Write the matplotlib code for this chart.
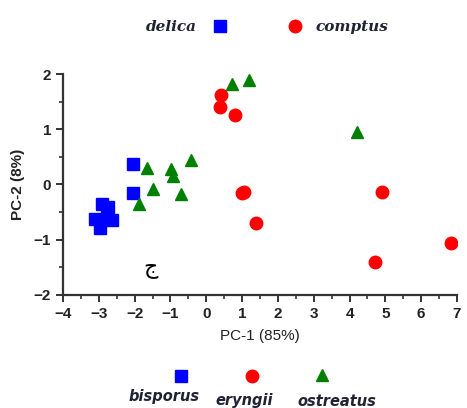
import matplotlib
matplotlib.use("Agg")
import matplotlib.pyplot as plt
from matplotlib.lines import Line2D
from matplotlib.ticker import MultipleLocator

plt.rcParams['font.family'] = ['Liberation Sans', 'DejaVu Sans']

bisporus_x = [-2.04, -2.04, -2.92, -2.73, -3.11, -2.97, -2.64, -2.78]
bisporus_y = [0.38, -0.15, -0.36, -0.40, -0.63, -0.79, -0.64, -0.58]

eryngii_x = [0.41, 0.38, 0.79, 1.01, 1.06, 1.39, 4.90, 4.70, 6.84]
eryngii_y = [1.62, 1.40, 1.25, -0.16, -0.14, -0.70, -0.13, -1.41, -1.05]

ostreatus_x = [0.71, 1.20, 4.22, -0.42, -0.99, -0.92, -1.48, -0.71, -1.66, -1.87]
ostreatus_y = [1.82, 1.90, 0.95, 0.44, 0.28, 0.16, -0.09, -0.18, 0.29, -0.35]

x_ticks = [-4, -3, -2, -1, 0, 1, 2, 3, 4, 5, 6, 7]
y_ticks = [-2, -1, 0, 1, 2]

fig = plt.figure(figsize=(4.67, 4.08), dpi=100)
ax = fig.add_axes([0.1349, 0.277, 0.8437, 0.5416])

ax.plot(bisporus_x, bisporus_y, 's', color='#0000ff', markersize=8, linestyle='none')
ax.plot(eryngii_x, eryngii_y, 'o', color='#ff0000', markersize=9, linestyle='none')
ax.plot(ostreatus_x, ostreatus_y, '^', color='#008000', markersize=8.5, linestyle='none')

ax.text(-1.57, -1.51, 'ج', fontsize=16, ha='center', va='center',
        family=['DejaVu Sans'])

ax.set_xlim(-4, 7)
ax.set_ylim(-2, 2)
ax.set_xticks(x_ticks)
ax.set_yticks(y_ticks)
ax.xaxis.set_minor_locator(MultipleLocator(0.5))
ax.yaxis.set_minor_locator(MultipleLocator(0.5))
for s in ['top', 'right']:
    ax.spines[s].set_visible(False)
for s in ['left', 'bottom']:
    ax.spines[s].set_linewidth(1.6)
    ax.spines[s].set_color('#333333')
ax.tick_params(which='major', length=5, width=1.4, color='#333333',
               labelsize=11, labelcolor='#222222')
ax.tick_params(which='minor', length=3, width=1.2, color='#333333')
for lab in ax.get_xticklabels() + ax.get_yticklabels():
    lab.set_fontweight('bold')

ax.set_xlabel('PC-1 (85%)', fontsize=11, color='#222222', labelpad=6)
ax.set_ylabel('PC-2 (8%)', fontsize=11, color='#222222', fontweight='bold', labelpad=6)

def fx(px):
    return px / 467.0

def fy(py):
    return 1 - py / 408.0

# top legend
fig.text(fx(197), fy(27), 'delica', fontsize=11, fontstyle='italic', fontweight='bold',
         family=['DejaVu Serif'], ha='right', va='center', color='#222233')
fig.add_artist(Line2D([fx(220)], [fy(26)], marker='s', color='#0000ff', markersize=8.5,
                      linestyle='none', transform=fig.transFigure))
fig.add_artist(Line2D([fx(295)], [fy(26)], marker='o', color='#ff0000', markersize=9,
                      linestyle='none', transform=fig.transFigure))
fig.text(fx(315), fy(27), 'comptus', fontsize=11, fontstyle='italic', fontweight='bold',
         family=['DejaVu Serif'], ha='left', va='center', color='#222233')

# bottom legend
fig.add_artist(Line2D([fx(181)], [fy(376)], marker='s', color='#0000ff', markersize=8.5,
                      linestyle='none', transform=fig.transFigure))
fig.add_artist(Line2D([fx(252)], [fy(376)], marker='o', color='#ff0000', markersize=9,
                      linestyle='none', transform=fig.transFigure))
fig.add_artist(Line2D([fx(322)], [fy(375)], marker='^', color='#008000', markersize=8.5,
                      linestyle='none', transform=fig.transFigure))
fig.text(fx(164), fy(397), 'bisporus', fontsize=10.5, fontstyle='italic', fontweight='bold',
         family=['DejaVu Sans'], ha='center', va='center', color='#222233')
fig.text(fx(244), fy(400), 'eryngii', fontsize=10.5, fontstyle='italic', fontweight='bold',
         family=['DejaVu Sans'], ha='center', va='center', color='#222233')
fig.text(fx(337), fy(401), 'ostreatus', fontsize=10.5, fontstyle='italic', fontweight='bold',
         family=['DejaVu Sans'], ha='center', va='center', color='#222233')

fig.savefig('out.png', dpi=100)
